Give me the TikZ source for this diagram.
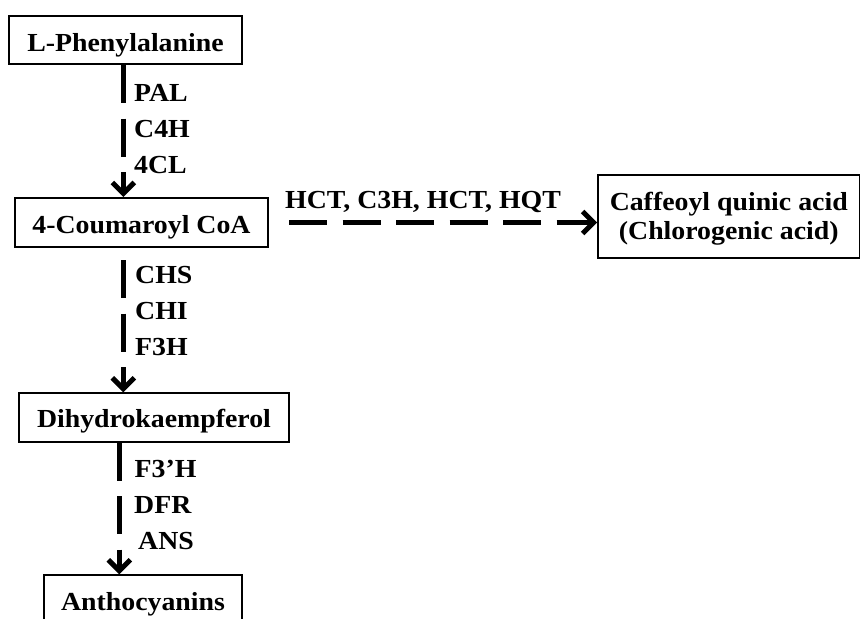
\documentclass[tikz,border=0pt]{standalone}
\usepackage{fontspec}
\setmainfont{Liberation Serif}[FakeStretch=1.07]
\usetikzlibrary{arrows.meta}
\begin{document}
\begin{tikzpicture}[x=1pt,y=-1pt,
  every node/.style={inner sep=0pt, font=\fontsize{26}{29}\selectfont\bfseries},
  box/.style={draw, line width=2pt},
  thinbox/.style={draw, line width=1.4pt},
  lab/.style={anchor=base west},
  flow/.style={line width=5pt, dash pattern=on 38pt off 15.5pt,
    -{Straight Barb[length=11pt,width=22pt]}}]
\useasboundingbox (0,0) rectangle (861,618);
\clip (0,0) rectangle (861,618);
% boxes
\node[box, line width=2.4pt, minimum width=233pt, minimum height=48pt, text height=24pt, text depth=0pt]
  (b1) at (125.5,40) {L-Phenylalanine};
\node[box, minimum width=253pt, minimum height=49pt, text height=21pt, text depth=0pt]
  (b2) at (141.5,222.5) {4-Coumaroyl CoA};
\node[thinbox, minimum width=270pt, minimum height=49pt, text height=19pt, text depth=0pt]
  (b3) at (154,417.5) {Dihydrokaempferol};
\node[thinbox, minimum width=198pt, minimum height=49pt, text height=21pt, text depth=0pt]
  (b4) at (143,599.5) {Anthocyanins};
\node[box, line width=1.7pt, minimum width=261.5pt, minimum height=83pt, align=center]
  (b5) at (728.75,216.5) {\rule{0pt}{23.6pt}Caffeoyl quinic acid\\(Chlorogenic acid)};
% x positions of vertical connectors
\coordinate (xa) at (123.3,0);
\coordinate (xc) at (119.3,0);
% connectors
\draw[flow] (b1.south -| xa) -- (b2.north -| xa);
\draw[flow, shorten <=12pt] (b2.south -| xa) -- (b3.north -| xa);
\draw[flow] (b3.south -| xc) -- (b4.north -| xc);
\draw[flow, shorten <=20pt] (b2.east) -- (b2.east -| b5.west);
% enzyme labels
\node[lab] (pal) at (134,101) {PAL};
\node[lab] (c4h) at (134,137) {C4H};
\node[lab] (fcl) at (134,173.5) {4CL};
\node[lab] (chs) at (135,283) {CHS};
\node[lab] (chi) at (135,319) {CHI};
\node[lab] (f3h) at (135,355) {F3H};
\node[lab] (f3ph) at (134.5,477) {F3’H};
\node[lab] (dfr) at (134,513) {DFR};
\node[lab] (ans) at (138,549.5) {ANS};
\node[lab] (hct) at (285,208) {HCT, C3H, HCT, HQT};
\end{tikzpicture}
\end{document}
